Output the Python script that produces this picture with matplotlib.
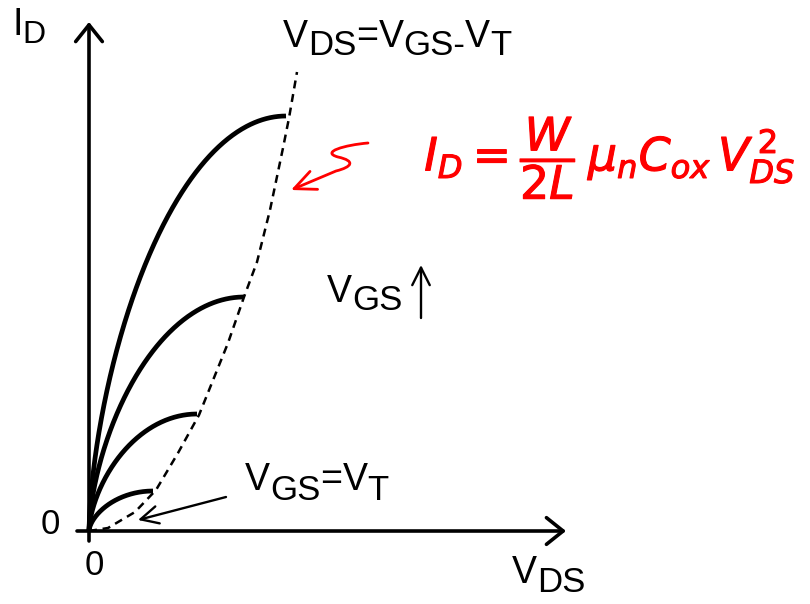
import matplotlib
matplotlib.use("Agg")
import matplotlib.pyplot as plt
import matplotlib.patheffects as pe
import numpy as np
from matplotlib.path import Path
from matplotlib.patches import FancyArrowPatch
from matplotlib.transforms import offset_copy

# ─── DATA (V_DS / I_D in arbitrary units) ──────────────────────────────────
VOV = [0.64, 1.08, 1.55, 1.97]          # V_GS - V_T for each curve
ISAT = [0.40, 1.17, 2.34, 4.15]         # I_D where the curve meets saturation
SHAPE_Q = 0.62                          # bend of the triode curves
EDGE_VDS = [0, 0.19, 0.46, 0.67, 0.89, 1.10, 1.39, 1.55, 1.68, 1.81, 1.94, 2.00, 2.08]
EDGE_ID = [0, 0.03, 0.19, 0.41, 0.78, 1.16, 1.88, 2.34, 2.69, 3.21, 3.83, 4.13, 4.59]

plt.rcParams.update({
    "font.family": ["Liberation Sans", "DejaVu Sans"],
    "mathtext.fontset": "dejavusans",
})

W, H = 810, 604
X0, Y0, UNIT = 89, 531, 100   # pixel position of the origin, pixels per unit


def P(px, py):
    """pixel position in the picture -> data coordinates (for labels only)"""
    return (px - X0) / UNIT, (Y0 - py) / UNIT


fig = plt.figure(figsize=(W / 100, H / 100), dpi=100)
ax = fig.add_axes([0, 0, 1, 1])
ax.set_xlim(P(0, 0)[0], P(W, 0)[0])
ax.set_ylim(P(0, H)[1], P(0, 0)[1])
ax.axis("off")
renderer = fig.canvas.get_renderer()


def rich(px, py, pieces, size=27, sub=25, drop=8, color="black"):
    x, y = P(px, py)
    off = 0.0
    for s, is_sub in pieces:
        tr = offset_copy(ax.transData, fig=fig, x=off, y=-drop if is_sub else 0, units="dots")
        t = ax.text(x, y, s, transform=tr, fontsize=sub if is_sub else size,
                    ha="left", va="baseline", color=color)
        off += t.get_window_extent(renderer).width


# axes with open arrow heads
axis_style = dict(arrowstyle="->,head_length=1.0,head_width=0.8", lw=2.6,
                  color="black", shrinkA=0, shrinkB=0, mutation_scale=12)
ax.annotate("", xy=(4.77, 0), xytext=(-0.12, 0), arrowprops=axis_style)
ax.annotate("", xy=(0, 5.09), xytext=(0, -0.10), arrowprops=axis_style)

# triode curves
for vov, isat in zip(VOV, ISAT):
    t = np.linspace(0, 1, 300)
    ax.plot(t * vov, isat * (2 * t - t ** 2) ** SHAPE_Q,
            color="black", lw=3.4, solid_capstyle="butt")

# edge of saturation
ax.plot(EDGE_VDS, EDGE_ID, color="black", lw=1.8, linestyle=(0, (3.2, 2.3)))

# labels
rich(12, 35, [("I", False), ("D", True)], size=27, sub=23)
rich(283, 47, [("V", False), ("DS", True), ("=", False), ("V", False),
               ("GS-", True), ("V", False), ("T", True)])
rich(327, 302, [("V", False), ("GS", True)])
rich(245, 490, [("V", False), ("GS", True), ("=", False), ("V", False), ("T", True)], drop=10)
rich(512, 583, [("V", False), ("DS", True)], drop=9)
ax.text(*P(50, 534), "0", fontsize=25, ha="center", va="baseline")
ax.text(*P(94, 575), "0", fontsize=25, ha="center", va="baseline")

thin = dict(arrowstyle="->,head_length=0.9,head_width=0.45", lw=1.7,
            color="black", shrinkA=0, shrinkB=0, mutation_scale=14)
ax.annotate("", xy=P(421, 265), xytext=P(421, 318), arrowprops=thin)
ax.annotate("", xy=P(138, 520), xytext=P(226, 497), arrowprops=thin)

# red hand-written note
ax.text(*P(610, 158), r"$I_D=\dfrac{W}{2L}\,\mu_n C_{ox}\, V_{DS}^{\,2}$",
        fontsize=33, color="red", ha="center", va="center",
        path_effects=[pe.withStroke(linewidth=0.8, foreground="red")])
verts = [P(368, 143), P(345, 145), P(320, 152), P(338, 157),
         P(356, 161), P(352, 167), P(336, 171), P(291, 190)]
codes = [Path.MOVETO, Path.CURVE4, Path.CURVE4, Path.CURVE4,
         Path.CURVE4, Path.CURVE4, Path.CURVE4, Path.LINETO]
ax.add_patch(FancyArrowPatch(path=Path(verts, codes), color="red", lw=2.0,
                             arrowstyle="->,head_length=1.1,head_width=0.5",
                             mutation_scale=14))

fig.savefig("out.png", dpi=100)
